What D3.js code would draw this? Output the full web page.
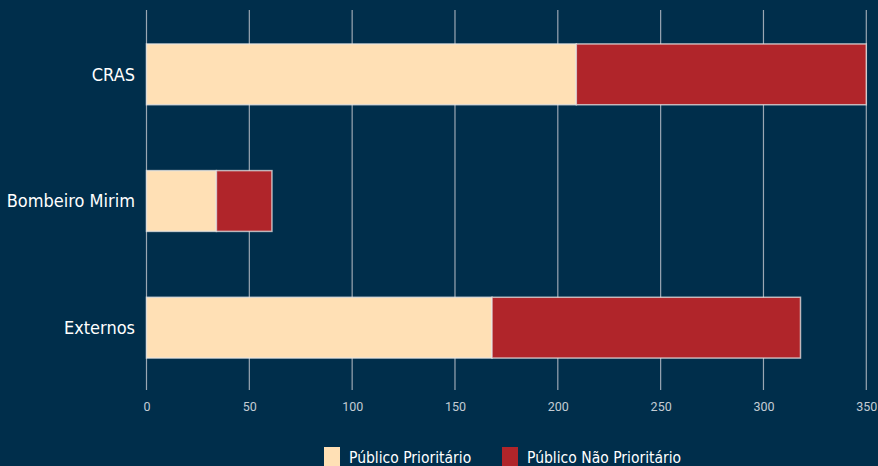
<!DOCTYPE html>
<html>
<head>
<meta charset="utf-8">
<script src="https://cdn.jsdelivr.net/npm/d3@7"></script>
<style>
  body { margin: 0; background: #002e4b; }
  svg { display: block; }
</style>
</head>
<body>
<script>
const categories = ['CRAS', 'Bombeiro Mirim', 'Externos']
const prioritario = [209, 34, 168]
const naoPrioritario = [141, 27, 150]
const seriesNames = ['Público Prioritário', 'Público Não Prioritário']
const xTicks = [0, 50, 100, 150, 200, 250, 300, 350]

const width = 878
const height = 466
const colors = ['#ffe0b5', '#b0252a']
const labelFont = "'DejaVu Sans Condensed', 'DejaVu Sans', sans-serif"

const svg = d3.select('body')
  .append('svg')
  .attr('width', width)
  .attr('height', height)

svg.append('rect')
  .attr('width', width)
  .attr('height', height)
  .attr('fill', '#002e4b')

const x = d3.scaleLinear()
  .domain([0, 350])
  .range([146.5, 866.3])

const y = d3.scaleBand()
  .domain(categories)
  .range([11, 391])
  .paddingInner(0.52)
  .paddingOuter(0.26)

// gridlines
svg.append('g')
  .selectAll('line')
  .data(xTicks)
  .enter()
  .append('line')
  .attr('x1', d => x(d))
  .attr('x2', d => x(d))
  .attr('y1', 10)
  .attr('y2', 390)
  .attr('stroke', '#9aa7b3')
  .attr('stroke-width', 1.2)

// x axis labels
const xAxis = svg.append('g')
  .attr('transform', 'translate(0,390)')
  .call(d3.axisBottom(x).tickValues(xTicks).tickSize(0).tickPadding(12))
xAxis.select('.domain').remove()
xAxis.selectAll('text')
  .attr('fill', '#c3ccd4')
  .style('font-family', 'Roboto')
  .style('font-size', '12.5px')

// stacked bars
const rows = categories.map((c, i) => ({ cat: c, vals: [prioritario[i], naoPrioritario[i]] }))
const stack = d3.stack().keys([0, 1]).value((d, k) => d.vals[k])
const layers = stack(rows)

layers.forEach((layer, k) => {
  svg.append('g')
    .selectAll('rect')
    .data(layer)
    .enter()
    .append('rect')
    .attr('x', d => x(d[0]))
    .attr('y', d => y(d.data.cat))
    .attr('width', d => x(d[1]) - x(d[0]))
    .attr('height', y.bandwidth())
    .attr('fill', colors[k])
    .attr('stroke', 'rgba(230,230,230,0.75)')
    .attr('stroke-width', 1.5)
})

// category labels
svg.append('g')
  .selectAll('text')
  .data(categories)
  .enter()
  .append('text')
  .attr('x', 135)
  .attr('y', d => y(d) + y.bandwidth() / 2)
  .attr('dy', '0.35em')
  .attr('text-anchor', 'end')
  .attr('fill', '#ffffff')
  .style('font-family', labelFont)
  .style('font-size', '18px')
  .text(d => d)

// legend
const legendX = [324, 502]
const legend = svg.append('g')
seriesNames.forEach((name, k) => {
  legend.append('rect')
    .attr('x', legendX[k])
    .attr('y', 447)
    .attr('width', 16)
    .attr('height', 19)
    .attr('fill', colors[k])
  legend.append('text')
    .attr('x', legendX[k] + 25)
    .attr('y', 463)
    .attr('fill', '#ffffff')
    .style('font-family', labelFont)
    .style('font-size', '15.5px')
    .text(name)
})
</script>
</body>
</html>
